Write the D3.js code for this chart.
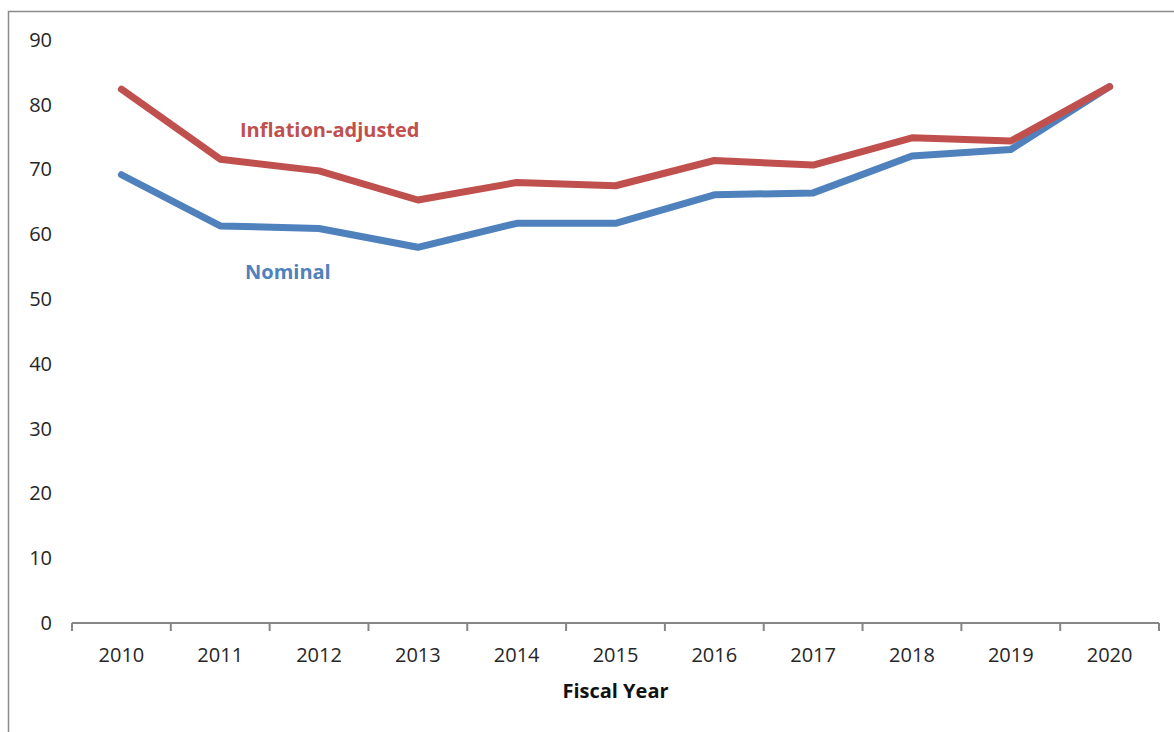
<!DOCTYPE html>
<html>
<head>
<meta charset="utf-8">
<script src="https://cdn.jsdelivr.net/npm/d3@7"></script>
<style>
  body { margin: 0; background: #fff; }
  text { font-family: "Open Sans", sans-serif; }
</style>
</head>
<body>
<div id="chart"></div>
<script>
// data
var years = ["2010", "2011", "2012", "2013", "2014", "2015", "2016", "2017", "2018", "2019", "2020"];
var inflationAdjusted = [82.4, 71.6, 69.8, 65.3, 68.0, 67.5, 71.4, 70.7, 74.9, 74.4, 82.8];
var nominal = [69.2, 61.3, 60.9, 58.0, 61.7, 61.7, 66.1, 66.4, 72.1, 73.1, 82.8];
var yTicks = [0, 10, 20, 30, 40, 50, 60, 70, 80, 90];

var svgWidth = 1174;
var svgHeight = 732;

var margin = { top: 40, right: 15, bottom: 109, left: 72 };
var width = svgWidth - margin.left - margin.right;
var height = svgHeight - margin.top - margin.bottom;

var svg = d3.select("#chart")
  .append("svg")
  .attr("width", svgWidth)
  .attr("height", svgHeight);

// outer frame (only left and top edges are visible)
svg.append("path")
  .attr("d", "M8.5," + svgHeight + "V11.5H" + svgWidth)
  .attr("fill", "none")
  .attr("stroke", "#8c8c8c")
  .attr("stroke-width", 1.5);

var chartGroup = svg.append("g")
  .attr("transform", `translate(${margin.left}, ${margin.top})`);

// scales
var xBand = d3.scaleBand().domain(years).range([0, width]);
var yLinearScale = d3.scaleLinear().domain([0, 90]).range([height, 0]);

// y labels, no axis line
var leftAxis = d3.axisLeft(yLinearScale).tickValues(yTicks).tickSize(0).tickPadding(20);
var yAxis = chartGroup.append("g").call(leftAxis);
yAxis.select(".domain").remove();
yAxis.selectAll("text")
  .attr("font-size", 20)
  .attr("fill", "#262626")
  .style("font-family", "Open Sans, sans-serif");

// x axis with ticks at band boundaries
var xAxis = chartGroup.append("g")
  .attr("transform", `translate(0, ${height})`);
xAxis.append("line")
  .attr("x1", 0).attr("x2", width)
  .attr("y1", 0).attr("y2", 0)
  .attr("stroke", "#868686").attr("stroke-width", 2);
var bounds = years.map(d => xBand(d)).concat([width]);
xAxis.selectAll(".tickmark")
  .data(bounds)
  .enter()
  .append("line")
  .attr("x1", d => d).attr("x2", d => d)
  .attr("y1", 0).attr("y2", 8)
  .attr("stroke", "#868686").attr("stroke-width", 2);
xAxis.selectAll(".ticklabel")
  .data(years)
  .enter()
  .append("text")
  .attr("x", d => xBand(d) + xBand.bandwidth() / 2)
  .attr("y", 39)
  .attr("text-anchor", "middle")
  .attr("font-size", 20)
  .attr("fill", "#262626")
  .text(d => d);

// axis title
chartGroup.append("text")
  .attr("x", width / 2)
  .attr("y", height + 75)
  .attr("text-anchor", "middle")
  .attr("font-size", 20)
  .attr("font-weight", "bold")
  .attr("fill", "#111")
  .text("Fiscal Year");

// lines
var line = d3.line()
  .x((d, i) => xBand(years[i]) + xBand.bandwidth() / 2)
  .y(d => yLinearScale(d));

chartGroup.append("path")
  .datum(nominal)
  .attr("d", line)
  .attr("fill", "none")
  .attr("stroke", "#4F81BD")
  .attr("stroke-width", 7)
  .attr("stroke-linecap", "round")
  .attr("stroke-linejoin", "round");

chartGroup.append("path")
  .datum(inflationAdjusted)
  .attr("d", line)
  .attr("fill", "none")
  .attr("stroke", "#C0504D")
  .attr("stroke-width", 7)
  .attr("stroke-linecap", "round")
  .attr("stroke-linejoin", "round");

// series labels
svg.append("text")
  .attr("x", 240)
  .attr("y", 137)
  .attr("font-size", 20)
  .attr("font-weight", "bold")
  .attr("fill", "#C0504D")
  .text("Inflation-adjusted");

svg.append("text")
  .attr("x", 245)
  .attr("y", 279)
  .attr("font-size", 20)
  .attr("font-weight", "bold")
  .attr("fill", "#4F81BD")
  .text("Nominal");
</script>
</body>
</html>
